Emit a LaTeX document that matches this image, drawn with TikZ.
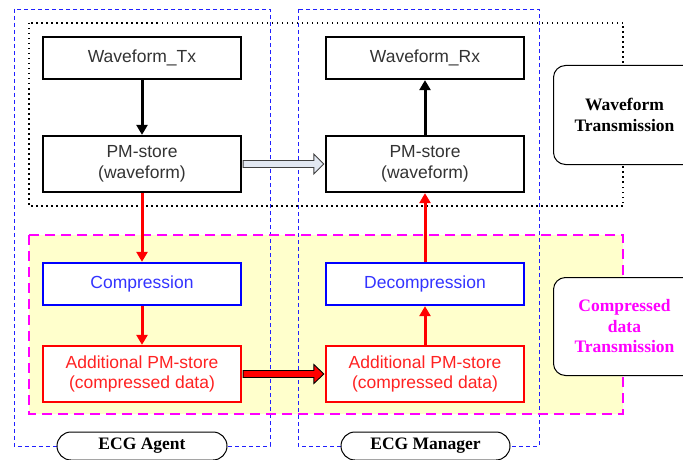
\documentclass[tikz,border=0pt]{standalone}
\usepackage{fontspec}
\setmainfont{Liberation Serif}
\setsansfont{Liberation Sans}
\usetikzlibrary{calc,arrows.meta}
\definecolor{txtgray}{HTML}{333333}
\definecolor{boxblue}{HTML}{0000FF}
\definecolor{txtblue}{HTML}{3333FF}
\definecolor{boxred}{HTML}{FF0000}
\definecolor{txtred}{HTML}{FF2222}
\definecolor{bgyellow}{HTML}{FFFFCC}
\definecolor{grayblue}{HTML}{E2E8F2}
\definecolor{pmag}{HTML}{FF00FF}
\definecolor{lineblue}{HTML}{2020FF}
\begin{document}
\begin{tikzpicture}[x=1pt,y=-1pt,
  box/.style={draw=black, line width=2.3pt, fill=white, minimum width=198pt,
    inner sep=0pt, align=center, text=txtgray,
    font=\sffamily\fontsize{17.5}{20.5}\selectfont},
  onebox/.style={box, minimum height=42pt},
  twobox/.style={box, minimum height=56pt},
  bluebox/.style={onebox, draw=boxblue, text=txtblue},
  redbox/.style={twobox, draw=boxred, text=txtred},
  sidelabel/.style={draw=black, line width=1pt, fill=white, rounded corners=12pt,
    minimum width=142pt, inner sep=0pt, align=center, anchor=north west,
    font=\rmfamily\bfseries\fontsize{17.5}{20.5}\selectfont},
  rolelabel/.style={draw=black, line width=1pt, fill=white, rounded corners=14pt,
    minimum height=28pt, inner sep=0pt,
    font=\rmfamily\bfseries\fontsize{17.5}{20}\selectfont},
  blkarrow/.style={-{Triangle[length=10pt,width=11pt]}, line width=3pt, black},
  redarrow/.style={-{Triangle[length=10pt,width=11pt]}, line width=3pt, boxred},
  agentline/.style={lineblue, line width=0.8pt, dash pattern=on 4pt off 3pt}
]
\useasboundingbox (0,0) rectangle (683,460);
\clip (0,0) rectangle (683,460);

% compressed-data region background
\fill[bgyellow] (29,235) rectangle (623,414);

% agent / manager outlines
\draw[agentline] (14,9) rectangle (270,446);
\draw[agentline] (298,9) rectangle (539,446);

% waveform region (dotted)
\draw[black, line width=1.5pt, dash pattern=on 1.5pt off 3.5pt] (29,23) rectangle (623,206);
% compressed region (dashed magenta)
\draw[pmag, line width=2.3pt, dash pattern=on 10pt off 6pt] (29,235) rectangle (623,414);

% boxes
\node[onebox] (tx)   at (142,58)  {Waveform\_Tx};
\node[twobox] (pmL)  at (142,164) {PM-store\\(waveform)};
\node[bluebox] (cmp) at (142,284) {Compression};
\node[redbox] (addL) at (142,374) {Additional PM-store\\(compressed data)};

\node[onebox] (rx)   at (425,58)  {Waveform\_Rx};
\node[twobox] (pmR)  at (425,164) {PM-store\\(waveform)};
\node[bluebox] (dec) at (425,284) {Decompression};
\node[redbox] (addR) at (425,374) {Additional PM-store\\(compressed data)};

% vertical connectors
\draw[blkarrow] (tx.south) -- (pmL.north);
\draw[redarrow] (pmL.south) -- (cmp.north);
\draw[redarrow] (cmp.south) -- (addL.north);
\draw[redarrow] (addR.north) -- (dec.south);
\draw[redarrow] (dec.north) -- (pmR.south);
\draw[blkarrow] (pmR.north) -- (rx.south);

% block arrow: waveform transfer
\draw[fill=grayblue, draw=black!75, line width=0.9pt]
  ($(pmL.east)+(1,-3.5)$) -- ($(pmR.west)+(-11,-3.5)$) -- ($(pmR.west)+(-11,-10)$)
  -- ($(pmR.west)+(-1,0)$) -- ($(pmR.west)+(-11,10)$) -- ($(pmR.west)+(-11,3.5)$)
  -- ($(pmL.east)+(1,3.5)$) -- cycle;
% block arrow: compressed data transfer
\draw[fill=boxred, draw=black, line width=0.9pt]
  ($(addL.east)+(1,-3.5)$) -- ($(addR.west)+(-11,-3.5)$) -- ($(addR.west)+(-11,-9.5)$)
  -- ($(addR.west)+(-1,0)$) -- ($(addR.west)+(-11,9.5)$) -- ($(addR.west)+(-11,3.5)$)
  -- ($(addL.east)+(1,3.5)$) -- cycle;

% side labels
\node[sidelabel, minimum height=99pt] (wt) at (553,65) {Waveform\\Transmission};
\node[sidelabel, minimum height=98pt, text=pmag] (ct) at (553,277) {Compressed\\data\\Transmission};

% role labels
\node[rolelabel, minimum width=170pt] (agent) at (142,446) {ECG Agent};
\node[rolelabel, minimum width=169pt] (mgr) at (425.5,446) {ECG Manager};
\end{tikzpicture}
\end{document}
